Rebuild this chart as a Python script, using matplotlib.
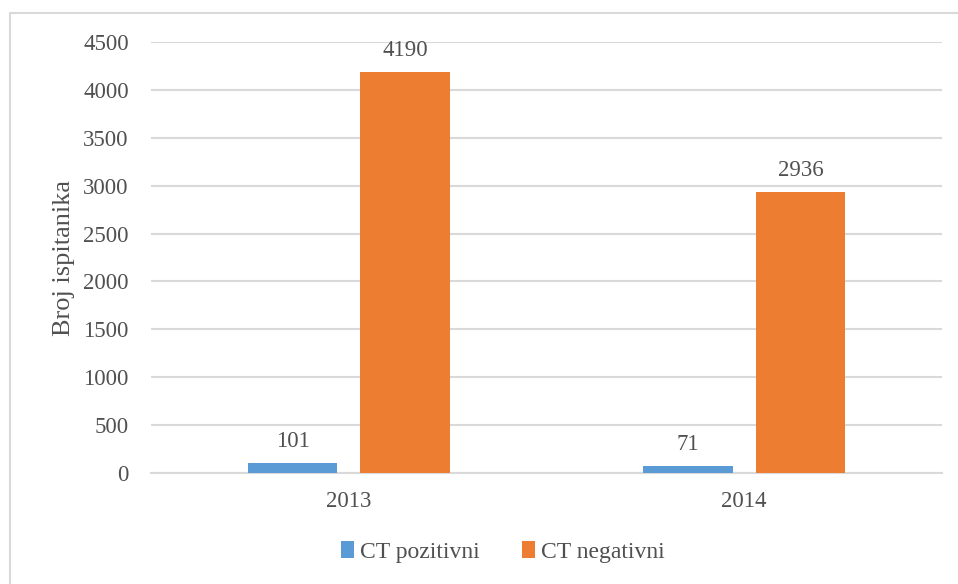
import numpy as np
import matplotlib.pyplot as plt
from matplotlib.patches import Rectangle

plt.rcParams['font.family'] = ['Liberation Serif', 'DejaVu Serif']

# data
years = ['2013', '2014']
ct_pozitivni = [101, 71]
ct_negativni = [4190, 2936]
series_names = ['CT pozitivni', 'CT negativni']

fig = plt.figure(figsize=(9.58, 5.84), dpi=100)
ax = fig.add_axes([151/958, 1-473/584, (942-151)/958, (473-42)/584])

# ramka oko grafikona (desna i donja ivica izlaze van slike)
fig.patches.append(Rectangle((10/958, -0.05), 1.0, 1.05-13/584, transform=fig.transFigure,
                             fill=False, edgecolor='#d9d9d9', linewidth=1.5))

x = np.arange(len(years))
w = 0.227
b1 = ax.bar(x - 0.142, ct_pozitivni, w, color='#5B9BD5', label=series_names[0], zorder=3)
b2 = ax.bar(x + 0.142, ct_negativni, w, color='#ED7D31', label=series_names[1], zorder=3)

txt = '#505050'
for bars in (b1, b2):
    ax.bar_label(bars, padding=8, fontsize=16.5, color=txt)

ax.set_xlim(-0.5, 1.5)
ax.set_ylim(0, 4500)
ax.set_yticks(np.arange(0, 4501, 500))
ax.set_xticks(x)
ax.set_xticklabels(years)
ax.grid(axis='y', color='#d9d9d9', linewidth=1.5, zorder=0)
ax.set_axisbelow(True)
for s in ['top', 'right', 'left']:
    ax.spines[s].set_visible(False)
ax.spines['bottom'].set_color('#d9d9d9')
ax.spines['bottom'].set_linewidth(1.5)
ax.tick_params(axis='both', length=0, labelsize=16.5, labelcolor=txt)
ax.tick_params(axis='y', pad=16)
ax.tick_params(axis='x', pad=13)
ax.set_ylabel('Broj ispitanika', fontsize=19, color=txt, labelpad=6)

fig.legend(loc='center', bbox_to_anchor=(503/958, 1-552/584), ncol=2, frameon=False,
           fontsize=17, handlelength=0.55, handleheight=0.75, handletextpad=0.25,
           columnspacing=1.8, labelcolor=txt)

fig.savefig('out.png', dpi=100)
